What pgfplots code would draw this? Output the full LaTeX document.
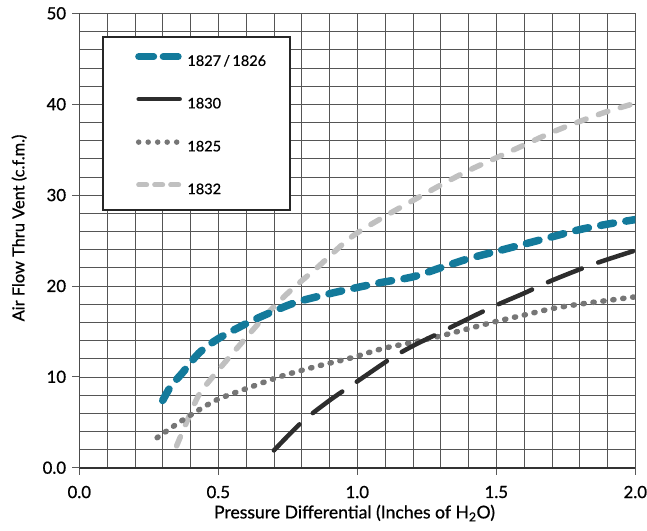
\documentclass[border=0pt]{standalone}
\usepackage{fontspec}
\setmainfont{Lato}[FakeBold=0.8]
\usepackage{pgfplots}
\pgfplotsset{compat=1.18}

\definecolor{cTeal}{RGB}{19,122,155}
\definecolor{cDark}{RGB}{45,45,45}
\definecolor{cDot}{RGB}{118,118,118}
\definecolor{cLight}{RGB}{192,192,192}
\definecolor{cGrid}{RGB}{85,85,85}

\begin{document}
\begin{tikzpicture}
\begin{axis}[
  scale only axis, width=556bp, height=454.4bp,
  xmin=0, xmax=2, ymin=0, ymax=50,
  xtick={0,0.5,1,1.5,2}, xticklabels={0.0,0.5,1.0,1.5,2.0},
  ytick={0,10,20,30,40,50}, yticklabels={0.0,10,20,30,40,50},
  minor x tick num=4, minor y tick num=4,
  grid=both,
  major grid style={draw=cGrid, line width=0.6bp},
  minor grid style={draw=cGrid, line width=0.6bp},
  axis x line*=bottom, axis y line*=left,
  x axis line style={line width=1.8bp, draw=black!80, -},
  y axis line style={line width=1.2bp, draw=black!70, -},
  tick align=outside,
  major tick length=7bp, minor tick length=0bp,
  tick style={draw=black!65, line width=0.8bp},
  /pgf/number format/assume math mode=true,
  tick label style={font=\fontsize{16.8bp}{19bp}\selectfont},
  xticklabel style={inner sep=0pt, anchor=north, yshift=-11bp},
  yticklabel style={inner sep=0pt, anchor=east, xshift=-6bp},
  xlabel={Pressure Differential (Inches of H\textsubscript{2}O)},
  ylabel={Air Flow Thru Vent (c.f.m.)},
  xlabel style={font=\fontsize{17.6bp}{20bp}\selectfont,
    at={(axis description cs:0.495,0)}, anchor=base, yshift=-50.7bp},
  ylabel style={font=\fontsize{16.4bp}{20bp}\selectfont,
    at={(axis description cs:0,0.5275)}, anchor=base, yshift=55bp},
  legend style={at={(0.0426,0.948)}, anchor=north west, draw=none, fill=none,
    inner xsep=32bp, inner ysep=16bp,
    row sep=31bp, column sep=5.5bp,
    font=\fontsize{14.5bp}{17bp}\selectfont,
    nodes={inner sep=0pt, text height=10.5bp, text depth=0bp}},
  legend cell align=left,
]
\addlegendimage{legend image code/.code={\draw[cTeal, line width=7bp, line cap=round, dash pattern=on 15bp off 9.5bp] (0bp,4bp) -- (39.5bp,4bp);}}
\addlegendentry{1827\,/\,1826}
\addlegendimage{legend image code/.code={\draw[cDark, line width=4.5bp, line cap=round] (0bp,4bp) -- (41bp,4bp);}}
\addlegendentry{1830}
\addlegendimage{legend image code/.code={\draw[cDot, line width=5.5bp, line cap=round, dash pattern=on 0bp off 9.5bp] (0bp,4bp) -- (38.1bp,4bp);}}
\addlegendentry{1825}
\addlegendimage{legend image code/.code={\draw[cLight, line width=5bp, line cap=round, dash pattern=on 8bp off 8bp] (0bp,4bp) -- (40bp,4bp);}}
\addlegendentry{1832}

% 1832
\addplot[forget plot, smooth, cLight, line width=5.5bp, line cap=round,
  dash pattern=on 10bp off 13bp] coordinates {
  (0.35,2.4) (0.39,5.3) (0.43,8.0) (0.48,10.0) (0.58,13.6) (0.675,16.9)
  (0.76,19.5) (0.855,22.0) (0.975,25.3) (1.09,27.5) (1.2,29.4) (1.3,31.1)
  (1.4,32.7) (1.5,34.1) (1.6,35.5) (1.7,36.9) (1.8,38.1) (1.9,39.2) (2.0,40.1)
};
% 1825
\addplot[forget plot, smooth, cDot, line width=5.5bp, line cap=round,
  dash pattern=on 1.2bp off 8.8bp] coordinates {
  (0.28,3.3) (0.37,5.2) (0.49,7.4) (0.61,8.8) (0.73,10.1) (0.86,11.2)
  (0.98,12.1) (1.09,13.1) (1.2,13.8) (1.3,14.5) (1.4,15.3) (1.5,16.1)
  (1.6,16.8) (1.7,17.5) (1.8,18.0) (1.9,18.4) (2.0,18.8)
};
% 1830
\addplot[forget plot, smooth, cDark, line width=4.5bp, line cap=round,
  dash pattern=on 36.5bp off 17.5bp] coordinates {
  (0.70,1.9) (0.8,5.0) (0.9,7.4) (1.0,9.5) (1.12,12.0) (1.2,13.4) (1.3,14.9)
  (1.48,17.6) (1.6,19.2) (1.7,20.6) (1.85,22.4) (2.0,23.9)
};
% 1827/1826
\addplot[forget plot, smooth, cTeal, line width=7.5bp, line cap=round,
  dash pattern=on 13bp off 12.5bp] coordinates {
  (0.30,7.4) (0.33,9.0) (0.37,10.4) (0.43,12.6) (0.50,14.2) (0.61,16.0)
  (0.69,17.1) (0.78,18.2) (0.88,19.0) (0.98,19.7) (1.09,20.4) (1.2,21.0)
  (1.3,22.0) (1.4,23.0) (1.5,23.8) (1.6,24.6) (1.7,25.4) (1.8,26.2)
  (1.9,26.8) (2.0,27.3)
};
% legend frame
\filldraw[fill=white, draw=black!85, line width=1.3bp]
  (rel axis cs:0.0426,0.948) rectangle (rel axis cs:0.379,0.567);
\coordinate (bl) at (rel axis cs:0,0);
\coordinate (tr) at (rel axis cs:1,1);
\end{axis}
\pgfresetboundingbox
\path[use as bounding box] ([shift={(-79.3bp,-63.3bp)}]bl) rectangle ([shift={(11.7bp,13.3bp)}]tr);
\end{tikzpicture}
\end{document}
